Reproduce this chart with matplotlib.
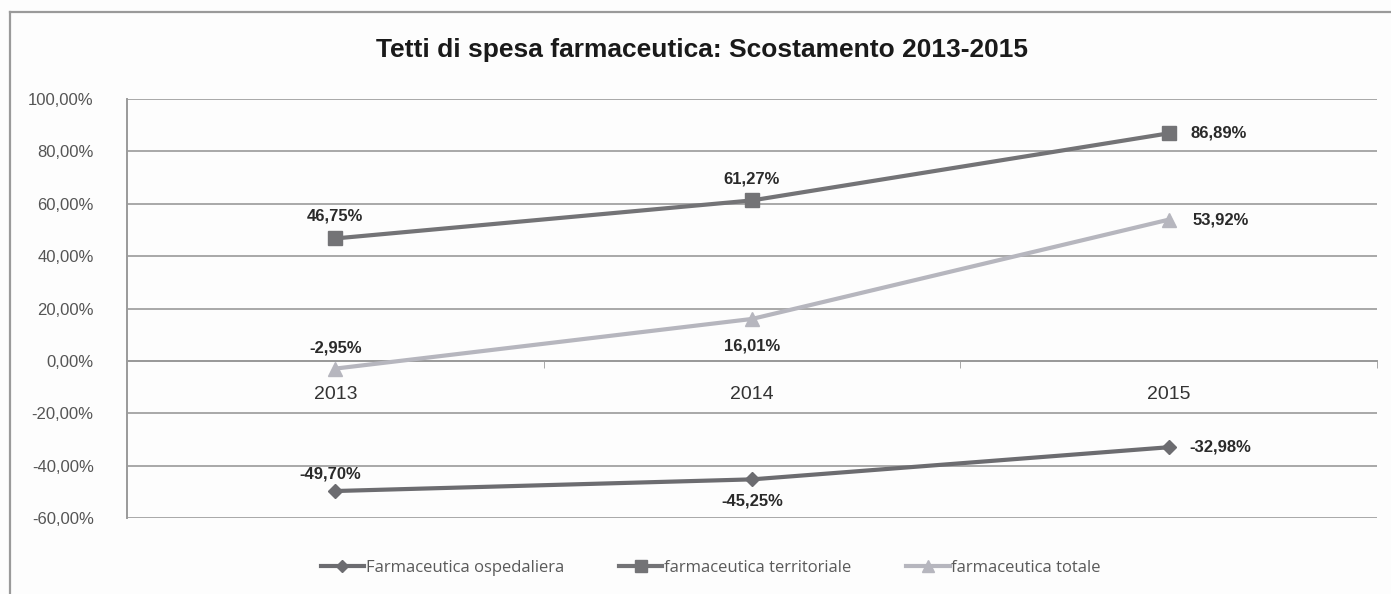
import matplotlib
matplotlib.use("Agg")
import matplotlib.pyplot as plt
from matplotlib.lines import Line2D

years = ["2013", "2014", "2015"]
ospedaliera = [-49.70, -45.25, -32.98]
territoriale = [46.75, 61.27, 86.89]
totale = [-2.95, 16.01, 53.92]
series_names = ["Farmaceutica ospedaliera", "farmaceutica territoriale", "farmaceutica totale"]
y_ticks = [-60, -40, -20, 0, 20, 40, 60, 80, 100]

title = "Tetti di spesa farmaceutica: Scostamento 2013-2015"

def pct(v):
    return f"{v:.2f}%".replace(".", ",")

plt.rcParams["font.family"] = ["Liberation Sans", "DejaVu Sans"]

fig = plt.figure(figsize=(13.91, 5.94), dpi=100)
fig.patch.set_facecolor("#fdfdfd")
W, H = 1391, 594

# outer frame of the chart box
fig.add_artist(Line2D([10 / W, 10 / W], [0, 1 - 12 / H], transform=fig.transFigure,
                      color="#9a9a9a", lw=1.6))
fig.add_artist(Line2D([10 / W, 1], [1 - 12 / H, 1 - 12 / H], transform=fig.transFigure,
                      color="#9a9a9a", lw=1.6))

ax = fig.add_axes([127 / W, 1 - 518 / H, 1250 / W, (518 - 99) / H])
ax.set_facecolor("#fdfdfd")
x = list(range(len(years)))

ax.set_xlim(-0.5, 2.5)
ax.set_ylim(-60, 100)
ax.set_yticks(y_ticks)
ax.set_yticklabels([pct(v) for v in y_ticks], fontsize=12, color="#555555")
ax.yaxis.grid(True, color="#a8a8a8", lw=1.4)
ax.set_axisbelow(True)
ax.tick_params(axis="y", length=0, pad=24)

for s in ["top", "right"]:
    ax.spines[s].set_visible(False)
ax.spines["left"].set_color("#9a9a9a")
ax.spines["left"].set_linewidth(1.4)
ax.spines["bottom"].set_position(("data", 0))
ax.spines["bottom"].set_color("#9a9a9a")
ax.spines["bottom"].set_linewidth(1.4)

ax.set_xticks(x)
ax.set_xticklabels(years, fontsize=14, color="#333333")
ax.tick_params(axis="x", length=0, pad=18)
ax.set_xticks([0.5, 1.5, 2.5], minor=True)
ax.tick_params(axis="x", which="minor", length=5, color="#9a9a9a", direction="out")

c_osp = "#6c6c70"
c_ter = "#737376"
c_tot = "#b6b6be"

ax.plot(x, territoriale, color=c_ter, lw=3, marker="s", ms=10, zorder=3,
        label=series_names[1])
ax.plot(x, totale, color=c_tot, lw=3, marker="^", ms=10, zorder=3,
        label=series_names[2])
ax.plot(x, ospedaliera, color=c_osp, lw=3, marker="D", ms=7, zorder=3,
        label=series_names[0])

lbl = dict(fontsize=12, fontweight="bold", color="#2a2a2a", fontstretch="condensed")
# data labels: above, below or to the right of each point (offsets in pixels)
placements = {
    "ter": [(0, 0, 22), (1, 0, 21), (2, 50, 0)],
    "tot": [(0, 0, 21), (1, 0, -27), (2, 52, 0)],
    "osp": [(0, -5, 17), (1, 0, -22), (2, 52, 0)],
}
for key, vals in (("ter", territoriale), ("tot", totale), ("osp", ospedaliera)):
    for (i, dx, dy), v in zip(placements[key], vals):
        ax.annotate(pct(v), (i, v), xytext=(dx * 0.72, dy * 0.72),
                    textcoords="offset points", ha="center", va="center", **lbl)

fig.text(0.505, 1 - 50 / H, title, ha="center", va="center",
         fontsize=19, fontweight="bold", color="#1a1a1a",
         family=["Liberation Sans Narrow", "Liberation Sans", "DejaVu Sans"])

handles = [
    Line2D([], [], color=c_osp, lw=3, marker="D", ms=6),
    Line2D([], [], color=c_ter, lw=3, marker="s", ms=8),
    Line2D([], [], color=c_tot, lw=3, marker="^", ms=8),
]
fig.legend(handles, series_names, loc="center", bbox_to_anchor=(0.511, 1 - 568 / H),
           ncol=3, frameon=False, prop={"family": "Open Sans", "size": 12},
           handlelength=2.6, handletextpad=0.1, columnspacing=3.3,
           labelcolor="#5a5a5a")

fig.savefig("out.png", dpi=100, facecolor=fig.get_facecolor())
